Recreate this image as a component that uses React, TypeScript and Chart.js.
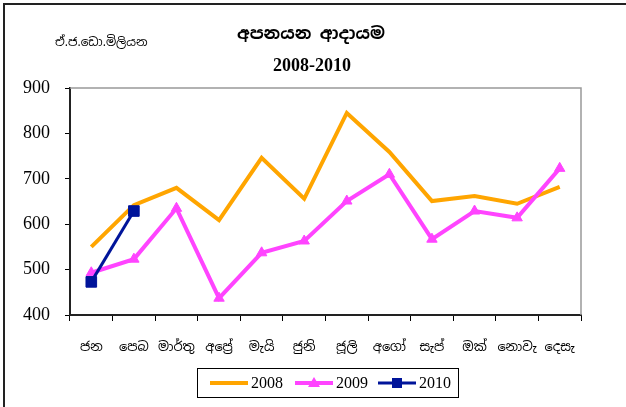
import React, { useEffect, useRef } from "react";
import { Chart, registerables } from "chart.js";

Chart.register(...registerables);

const months = ["ජන", "පෙබ", "මාර්තු", "අප්‍රේ", "මැයි", "ජුනි", "ජූලි", "අගෝ", "සැප්", "ඔක්", "නොවැ", "දෙසැ"];
const values2008 = [550, 642, 680, 609, 746, 656, 845, 759, 651, 662, 645, 682];
const values2009 = [493, 523, 635, 437, 537, 563, 651, 710, 567, 629, 614, 723];
const values2010 = [473, 629, null, null, null, null, null, null, null, null, null, null];
const seriesLabels = ["2008", "2009", "2010"];
const titleLine1 = "අපනයන ආදායම";
const titleLine2 = "2008-2010";
const unitLabel = "ඒ.ජ.ඩො.මිලියන";

const ORANGE = "#FFA500";
const MAGENTA = "#FF44FF";
const NAVY = "#00149A";
const SIN = '"Noto Sans Sinhala", "Iskoola Pota", "Noto Sans", serif';
const SERIF = '"Liberation Serif", "Times New Roman", serif';

const decor = {
  id: "decor",
  afterDraw(chart: any) {
    const ctx = chart.ctx;
    const a = chart.chartArea;
    ctx.save();
    // outer frame (left & top)
    ctx.strokeStyle = "#222";
    ctx.lineWidth = 2;
    ctx.beginPath();
    ctx.moveTo(4, 407);
    ctx.lineTo(4, 4);
    ctx.lineTo(626, 4);
    ctx.stroke();
    // plot area top & right border
    ctx.strokeStyle = "#999";
    ctx.lineWidth = 1.5;
    ctx.beginPath();
    ctx.moveTo(a.left, a.top);
    ctx.lineTo(a.right, a.top);
    ctx.lineTo(a.right, a.bottom);
    ctx.stroke();
    // titles
    ctx.fillStyle = "#000";
    ctx.textAlign = "center";
    ctx.textBaseline = "middle";
    ctx.font = "bold 17px " + SIN;
    ctx.fillText(titleLine1, 311, 34);
    ctx.font = "bold 18px " + SERIF;
    ctx.fillText(titleLine2, 312, 66);
    ctx.font = "12px " + SIN;
    ctx.textAlign = "left";
    ctx.fillText(unitLabel, 55, 43);
    // legend
    ctx.strokeStyle = "#000";
    ctx.lineWidth = 1;
    ctx.strokeRect(197.5, 368.5, 261, 29);
    const colors = [ORANGE, MAGENTA, NAVY];
    const starts = [210, 295, 378];
    ctx.font = "16px " + SERIF;
    ctx.textBaseline = "middle";
    for (let i = 0; i < 3; i++) {
      const x0 = starts[i];
      const y = 383;
      ctx.strokeStyle = colors[i];
      ctx.lineWidth = i === 2 ? 3 : 4;
      ctx.beginPath();
      ctx.moveTo(x0, y);
      ctx.lineTo(x0 + 38, y);
      ctx.stroke();
      const cx = x0 + 19;
      ctx.fillStyle = colors[i];
      if (i === 1) {
        ctx.beginPath();
        ctx.moveTo(cx, y - 6);
        ctx.lineTo(cx + 6, y + 4);
        ctx.lineTo(cx - 6, y + 4);
        ctx.closePath();
        ctx.fill();
      } else if (i === 2) {
        ctx.fillRect(cx - 5, y - 5, 10, 10);
      }
      ctx.fillStyle = "#000";
      ctx.fillText(seriesLabels[i], x0 + 41, y + 1);
    }
    ctx.restore();
  },
};

export default function App() {
  const ref = useRef<HTMLCanvasElement>(null);
  useEffect(() => {
    document.body.style.margin = "0";
    const chart = new Chart(ref.current!, {
      type: "line",
      data: {
        labels: months,
        datasets: [
          {
            label: seriesLabels[0],
            data: values2008,
            borderColor: ORANGE,
            backgroundColor: ORANGE,
            borderWidth: 4,
            pointRadius: 0,
            tension: 0,
            order: 2,
          },
          {
            label: seriesLabels[1],
            data: values2009,
            borderColor: MAGENTA,
            backgroundColor: MAGENTA,
            borderWidth: 4,
            pointStyle: "triangle",
            pointRadius: 6,
            pointBorderWidth: 1,
            tension: 0,
            order: 1,
          },
          {
            label: seriesLabels[2],
            data: values2010,
            borderColor: NAVY,
            backgroundColor: NAVY,
            borderWidth: 3,
            pointStyle: "rect",
            pointRadius: 7.5,
            pointBorderWidth: 1,
            tension: 0,
            spanGaps: false,
            order: 0,
          },
        ],
      },
      options: {
        animation: false,
        responsive: false,
        maintainAspectRatio: false,
        devicePixelRatio: 1,
        layout: { padding: { top: 88, right: 45, left: 0, bottom: 0 } },
        plugins: { legend: { display: false }, tooltip: { enabled: false }, title: { display: false } },
        scales: {
          x: {
            offset: true,
            afterFit: (s: any) => { s.height = 92; },
            grid: { offset: true, drawOnChartArea: false, tickLength: 6, color: "#000", lineWidth: 1 },
            border: { color: "#222", width: 2 },
            ticks: { color: "#000", font: { family: SIN, size: 13 }, padding: 19, maxRotation: 0, autoSkip: false },
          },
          y: {
            min: 400,
            max: 900,
            afterFit: (s: any) => { s.width = 70; },
            grid: { drawOnChartArea: false, tickLength: 5, color: "#000", lineWidth: 1 },
            border: { color: "#222", width: 2 },
            ticks: { stepSize: 100, color: "#000", font: { family: SERIF, size: 18 }, padding: 15 },
          },
        },
      },
      plugins: [decor],
    });
    return () => chart.destroy();
  }, []);
  return (
    <div style={{ position: "absolute", left: 0, top: 0, width: 626, height: 407, background: "#fff" }}>
      <canvas ref={ref} width={626} height={407} style={{ width: 626, height: 407, display: "block" }} />
    </div>
  );
}
